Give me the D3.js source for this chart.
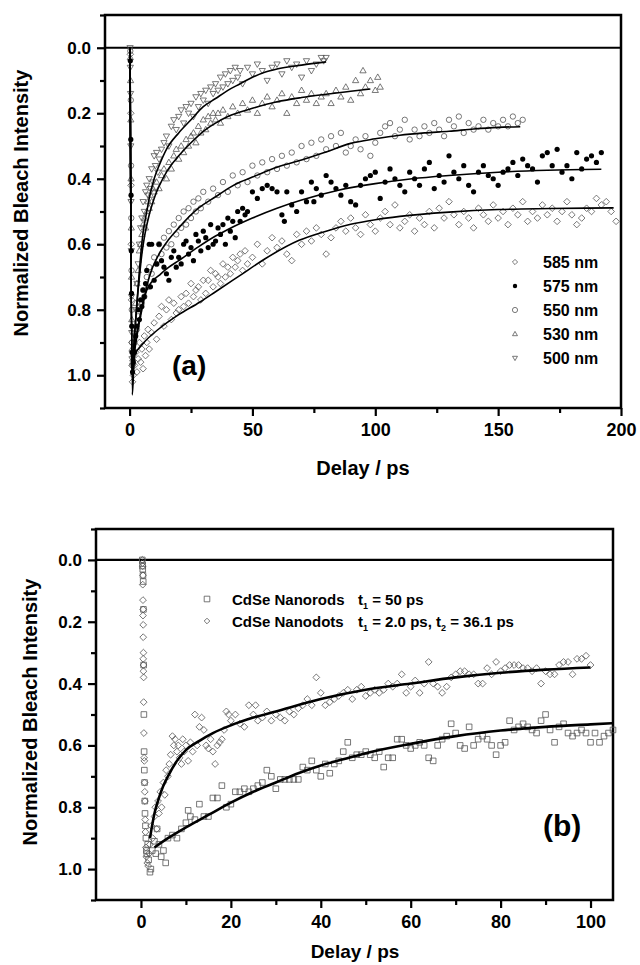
<!DOCTYPE html>
<html>
<head>
<meta charset="utf-8">
<script src="https://cdn.jsdelivr.net/npm/d3@7"></script>
<style>
body { margin: 0; background: #fff; }
text { font-family: "Liberation Sans", Arial, sans-serif; font-weight: bold; fill: #000; }
</style>
</head>
<body>
<svg width="640" height="965"></svg>
<script>

// ---- panel (a) data : [delay ps, normalized bleach] ----
var s585 = [[0.3,0.02],[0.5,0.2],[0.6,0.42],[0.7,0.6],[0.8,0.77],[0.9,0.9],[1,0.97],[1.2,1.02],[1.5,1.0],
  [2,0.97],[2.5,0.93],[3,0.99],[3.5,0.95],[4,0.9],[4.5,0.96],[5,0.92],[5.5,0.98],[6,0.88],[6.5,0.94],[7,0.9],[7.5,0.86],[8,0.92],[9,0.87],[10,0.84],
  [11,0.89],[12,0.82],[13,0.79],[14,0.85],[15,0.8],[16,0.77],[17,0.83],[18,0.78],[19,0.81],[20,0.8],[21,0.76],[22,0.79],[23,0.75],[24,0.78],[25,0.72],
  [26,0.76],[27,0.74],[28,0.73],[29,0.77],[30,0.71],[31,0.75],[32,0.71],[33,0.68],[34,0.73],[35,0.69],[36,0.7],[37,0.72],[38,0.66],[39,0.7],[40,0.67],
  [41,0.69],[42,0.64],[43,0.67],[44,0.65],[45,0.63],[46,0.68],[47,0.62],[48,0.66],[50,0.64],[52,0.6],[54,0.66],[56,0.62],[58,0.58],[60,0.61],[62,0.59],
  [64,0.63],[66,0.65],[68,0.57],[70,0.6],[72,0.56],[74,0.59],[76,0.55],[78,0.57],[80,0.63],[82,0.58],[84,0.55],[86,0.53],[88,0.56],[90,0.52],[92,0.55],
  [94,0.57],[96,0.51],[98,0.54],[100,0.56],[102,0.52],[104,0.5],[106,0.54],[108,0.48],[110,0.55],[112,0.53],[114,0.51],[116,0.56],[118,0.52],[120,0.54],
  [122,0.5],[124,0.55],[126,0.49],[128,0.52],[130,0.47],[132,0.51],[134,0.54],[136,0.5],[138,0.52],[140,0.55],[142,0.49],[144,0.51],[146,0.53],[148,0.48],
  [150,0.52],[152,0.5],[154,0.54],[156,0.49],[158,0.51],[160,0.47],[162,0.53],[164,0.5],[166,0.52],[168,0.48],[170,0.51],[172,0.49],[174,0.53],[176,0.5],
  [178,0.47],[180,0.51],[182,0.54],[184,0.52],[186,0.49],[188,0.5],[190,0.46],[192,0.48],[194,0.47],[196,0.5],[198,0.53]];

var s575 = [[0.3,0.04],[0.5,0.28],[0.6,0.45],[0.7,0.62],[0.8,0.75],[0.9,0.85],[1,0.93],[1.2,0.99],[1.5,0.96],
  [2,0.93],[2.5,0.88],[3,0.85],[3.5,0.8],[4,0.83],[4.5,0.77],[5,0.79],[5.5,0.74],[6,0.76],[6.5,0.72],[7,0.68],[8,0.6],[8.5,0.73],[9,0.6],[10,0.71],
  [11,0.66],[12,0.6],[13,0.65],[14,0.67],[15,0.69],[16,0.71],[17,0.64],[18,0.62],[19,0.67],[20,0.64],[21,0.66],[22,0.6],[23,0.59],[24,0.63],[25,0.61],
  [26,0.65],[27,0.57],[28,0.59],[29,0.62],[30,0.56],[31,0.58],[32,0.61],[33,0.54],[34,0.6],[35,0.59],[36,0.55],[37,0.57],[38,0.54],[39,0.6],[40,0.52],
  [41,0.56],[42,0.53],[43,0.58],[44,0.5],[45,0.53],[46,0.49],[47,0.51],[48,0.5],[50,0.44],[52,0.46],[54,0.43],[56,0.42],[58,0.43],[60,0.44],[62,0.51],
  [63,0.53],[64,0.44],[66,0.48],[68,0.5],[70,0.44],[72,0.47],[74,0.41],[75,0.47],[76,0.43],[78,0.45],[80,0.39],[82,0.41],[84,0.43],[86,0.45],[88,0.42],
  [90,0.47],[92,0.48],[94,0.42],[96,0.4],[98,0.39],[100,0.38],[102,0.46],[104,0.41],[106,0.37],[108,0.4],[110,0.42],[112,0.44],[114,0.38],[116,0.4],
  [118,0.42],[120,0.37],[122,0.35],[124,0.43],[126,0.39],[128,0.41],[130,0.33],[132,0.38],[134,0.4],[136,0.36],[138,0.42],[140,0.44],[142,0.38],[144,0.36],
  [146,0.39],[148,0.4],[150,0.42],[152,0.38],[154,0.37],[156,0.35],[158,0.39],[160,0.34],[162,0.36],[164,0.37],[166,0.41],[168,0.33],[170,0.32],[172,0.36],
  [174,0.31],[176,0.38],[178,0.36],[180,0.4],[182,0.32],[184,0.37],[186,0.34],[188,0.33],[190,0.35],[192,0.32]];

var s550 = [[0.3,0.01],[0.5,0.16],[0.6,0.36],[0.7,0.52],[0.8,0.68],[0.9,0.8],[1,0.9],[1.2,0.97],[1.5,0.94],
  [2,0.9],[3,0.86],[3.5,0.82],[4,0.79],[5,0.78],[5.5,0.74],[6,0.76],[7,0.7],[7.5,0.73],[8,0.67],[9,0.69],[10,0.64],[11,0.66],[12,0.6],[13,0.63],[14,0.58],
  [15,0.61],[16,0.56],[17,0.6],[18,0.54],[19,0.57],[20,0.52],[21,0.55],[22,0.5],[23,0.54],[24,0.49],[25,0.52],[26,0.47],[27,0.5],[28,0.46],[29,0.49],
  [30,0.44],[32,0.47],[34,0.43],[36,0.45],[38,0.41],[40,0.44],[42,0.39],[44,0.42],[46,0.38],[48,0.41],[50,0.36],[52,0.39],[54,0.35],[56,0.38],[58,0.34],
  [60,0.37],[62,0.33],[64,0.36],[66,0.32],[68,0.35],[70,0.3],[72,0.34],[74,0.29],[76,0.33],[78,0.28],[80,0.31],[82,0.27],[84,0.3],[86,0.26],[88,0.32],
  [90,0.3],[92,0.28],[94,0.31],[96,0.27],[98,0.33],[100,0.29],[102,0.26],[104,0.24],[106,0.23],[108,0.27],[110,0.25],[112,0.22],[114,0.28],[116,0.25],
  [118,0.27],[120,0.24],[122,0.26],[124,0.23],[126,0.25],[128,0.27],[130,0.22],[132,0.24],[134,0.21],[136,0.26],[138,0.23],[140,0.25],[142,0.24],[144,0.22],
  [146,0.25],[148,0.23],[150,0.24],[152,0.22],[154,0.24],[156,0.21],[158,0.23],[160,0.22]];

var s530 = [[0.3,0.03],[0.4,0.1],[0.5,0.22],[0.6,0.4],[0.7,0.55],[0.8,0.7],[0.9,0.83],[1,0.92],[1.3,0.95],
  [2,0.86],[2.5,0.78],[3,0.72],[3.5,0.68],[4,0.62],[4.5,0.6],[5,0.57],[5.5,0.54],[6,0.52],[6.5,0.55],[7,0.5],[7.5,0.47],[8,0.49],[8.5,0.45],[9,0.47],
  [9.5,0.43],[10,0.44],[11,0.41],[12,0.43],[13,0.39],[14,0.37],[15,0.4],[16,0.35],[17,0.37],[18,0.33],[19,0.31],[20,0.34],[21,0.3],[22,0.32],[23,0.28],
  [24,0.3],[25,0.27],[26,0.26],[27,0.29],[28,0.24],[29,0.26],[30,0.22],[31,0.25],[32,0.21],[33,0.23],[34,0.2],[35,0.22],[36,0.2],[37,0.23],[38,0.19],
  [40,0.21],[42,0.18],[44,0.2],[46,0.17],[48,0.19],[50,0.16],[52,0.2],[54,0.17],[56,0.15],[58,0.18],[60,0.16],[62,0.14],[64,0.2],[66,0.15],[68,0.17],
  [70,0.13],[72,0.16],[74,0.14],[76,0.17],[78,0.15],[80,0.14],[82,0.17],[84,0.13],[86,0.15],[88,0.12],[90,0.16],[92,0.1],[94,0.14],[95,0.07],[96,0.12],
  [98,0.1],[100,0.13],[101,0.09],[102,0.12]];

var s500 = [[0.2,0.0],[0.3,0.06],[0.4,0.14],[0.5,0.3],[0.6,0.47],[0.7,0.62],[0.8,0.76],[0.9,0.87],[1,0.95],[1.3,0.97],
  [2,0.88],[2.5,0.8],[3,0.72],[3.5,0.66],[4,0.6],[4.5,0.55],[5,0.52],[5.5,0.47],[6,0.5],[6.5,0.44],[7,0.42],[7.5,0.45],[8,0.4],[8.5,0.43],[9,0.37],
  [9.5,0.41],[10,0.33],[10.5,0.36],[11,0.32],[11.5,0.38],[12,0.34],[13,0.31],[14,0.29],[15,0.27],[16,0.3],[17,0.24],[18,0.22],[19,0.25],[20,0.21],
  [21,0.19],[22,0.23],[23,0.18],[24,0.2],[25,0.17],[26,0.21],[27,0.15],[28,0.18],[29,0.14],[30,0.16],[31,0.13],[32,0.17],[33,0.12],[34,0.14],[35,0.11],
  [36,0.13],[37,0.09],[38,0.12],[39,0.08],[40,0.11],[41,0.07],[42,0.1],[43,0.06],[44,0.09],[45,0.07],[46,0.11],[48,0.06],[50,0.08],[52,0.05],[54,0.07],
  [56,0.1],[58,0.06],[60,0.05],[62,0.08],[64,0.04],[66,0.06],[68,0.05],[70,0.09],[72,0.04],[74,0.07],[76,0.05],[78,0.03],[79,0.04],[80,0.03]];

// fitted curves, panel (a)
var fit585 = [[0.2,0],[1.1,1.06],[2,0.94],[5.4,0.904],[12,0.858],[20,0.815],[28.5,0.777],[35,0.745],[45,0.695],[55,0.645],[69,0.588],[80,0.56],
  [90,0.539],[100,0.525],[110,0.515],[130,0.502],[150,0.494],[171,0.491],[197,0.489]];
var fit575 = [[0.2,0],[1,1.0],[2,0.92],[3,0.87],[4,0.83],[5,0.79],[7,0.74],[9,0.715],[12,0.695],[16,0.67],[20,0.65],[28,0.608],[35,0.575],[40,0.555],
  [50,0.52],[60,0.49],[70,0.465],[85,0.435],[100,0.415],[115,0.4],[130,0.39],[150,0.38],[170,0.374],[192,0.371]];
var fit550 = [[0.2,0],[1,1.0],[2,0.93],[3,0.88],[5,0.8],[8,0.7],[12,0.63],[16,0.585],[20,0.55],[28,0.49],[35,0.455],[40,0.43],[45,0.41],[50,0.395],
  [60,0.365],[70,0.343],[80,0.318],[90,0.292],[100,0.278],[110,0.267],[120,0.26],[130,0.255],[140,0.248],[150,0.243],[159,0.241]];
var fit530 = [[0.2,0],[1,1.0],[2,0.88],[3,0.78],[4,0.7],[5,0.63],[6,0.58],[8,0.51],[10,0.46],[15,0.38],[20,0.33],[25,0.29],[30,0.255],[35,0.23],
  [40,0.21],[50,0.185],[60,0.165],[70,0.152],[80,0.142],[90,0.133],[98,0.126]];
var fit500 = [[0.2,0],[1,0.98],[2,0.88],[3,0.78],[4,0.68],[5.4,0.57],[7,0.5],[8,0.46],[10,0.4],[12,0.36],[15,0.31],[20,0.26],[25,0.22],[30,0.18],
  [35,0.155],[40,0.13],[45,0.11],[50,0.09],[55,0.075],[60,0.065],[70,0.053],[80,0.043]];

// ---- panel (b) data ----
var rods = [[0.3,0.0],[0.35,0.02],[0.4,0.03],[0.45,0.05],[0.5,0.07],[0.55,0.16],[0.6,0.34],[0.65,0.5],[0.7,0.62],[0.75,0.68],[0.8,0.72],[0.85,0.78],
  [0.9,0.82],[1,0.86],[1.1,0.9],[1.2,0.94],[1.3,0.95],[1.5,0.92],[1.7,0.97],[2,1.01],[2.2,1.0],[2.5,0.94],[3,0.91],[3.3,0.95],[3.6,0.87],[4,0.92],
  [4.5,0.96],[5,0.94],[5.5,0.98],[6,0.9],[7,0.89],[8,0.9],[9,0.87],[10,0.85],[10.5,0.81],[11,0.83],[12,0.84],[13,0.79],[14,0.83],[15,0.83],[16,0.77],
  [17,0.77],[18,0.73],[19,0.8],[20,0.79],[21,0.75],[22,0.75],[23,0.74],[24,0.75],[25,0.74],[26,0.73],[27,0.72],[28,0.68],[29,0.7],[30,0.74],[31,0.71],
  [32,0.71],[33,0.71],[34,0.71],[35,0.71],[36,0.67],[37,0.68],[38,0.65],[39,0.68],[40,0.7],[41,0.66],[42,0.69],[43,0.66],[44,0.65],[45,0.62],[46,0.59],
  [47,0.64],[48,0.63],[49,0.63],[50,0.62],[51,0.63],[52,0.64],[53,0.62],[54,0.67],[55,0.64],[56,0.64],[57,0.58],[58,0.58],[59,0.6],[60,0.61],[61,0.6],
  [62,0.59],[63,0.6],[64,0.64],[65,0.65],[66,0.6],[67,0.58],[68,0.57],[69,0.53],[70,0.56],[71,0.6],[72,0.61],[73,0.54],[74,0.6],[75,0.58],[76,0.57],
  [77,0.58],[78,0.6],[79,0.63],[80,0.6],[81,0.59],[82,0.52],[83,0.55],[84,0.54],[85,0.53],[86,0.54],[87,0.55],[88,0.56],[89,0.52],[90,0.5],[91,0.55],
  [92,0.59],[93,0.54],[94,0.53],[95,0.56],[96,0.57],[97,0.56],[98,0.55],[99,0.56],[100,0.59],[101,0.56],[102,0.59],[103,0.57],[104,0.56],[105,0.55]];

var dots = [[0.3,0.0],[0.35,0.01],[0.4,0.02],[0.45,0.05],[0.4,0.08],[0.45,0.13],[0.5,0.16],[0.45,0.18],[0.5,0.21],[0.5,0.25],[0.55,0.3],[0.5,0.32],
  [0.55,0.34],[0.55,0.36],[0.6,0.38],[0.6,0.46],[0.65,0.56],[0.7,0.64],[0.75,0.65],[0.8,0.72],[0.85,0.75],[0.9,0.78],[0.95,0.84],[1,0.88],[1.1,0.93],
  [1.2,0.96],[1.4,0.98],[1.6,0.99],[1.8,0.95],[2,0.92],[2.3,0.86],[2.6,0.9],[3,0.83],[3.2,0.8],[3.5,0.87],[3.8,0.78],[4,0.82],[4.3,0.75],[4.6,0.8],
  [5,0.72],[5.3,0.76],[5.6,0.68],[6,0.7],[6.3,0.66],[6.6,0.63],[7,0.57],[7.3,0.6],[7.6,0.58],[8,0.62],[8.3,0.6],[8.6,0.64],[9,0.66],[9.3,0.58],[9.6,0.62],
  [10,0.6],[10.5,0.65],[11,0.59],[11.5,0.62],[12,0.5],[12.5,0.6],[13,0.54],[13.5,0.51],[14,0.55],[14.5,0.6],[15,0.61],[15.5,0.58],[16,0.62],[16.5,0.66],
  [17,0.6],[17.5,0.59],[18,0.58],[18.5,0.55],[19,0.49],[19.5,0.5],[20,0.52],[21,0.5],[22,0.53],[23,0.54],[24,0.47],[25,0.5],[25.5,0.47],[26,0.52],
  [27,0.51],[28,0.49],[29,0.52],[30,0.5],[31,0.51],[32,0.52],[33,0.49],[34,0.5],[35,0.48],[36,0.47],[37,0.45],[38,0.47],[39,0.38],[40,0.43],[41,0.47],
  [42,0.46],[43,0.45],[44,0.44],[45,0.43],[46,0.42],[47,0.45],[48,0.42],[49,0.41],[50,0.44],[51,0.43],[52,0.42],[53,0.43],[54,0.42],[55,0.4],[56,0.41],
  [57,0.4],[58,0.37],[59,0.43],[60,0.41],[61,0.39],[62,0.43],[63,0.4],[64,0.33],[65,0.4],[66,0.41],[67,0.43],[68,0.41],[69,0.38],[70,0.37],[71,0.36],
  [72,0.36],[73,0.37],[74,0.37],[75,0.4],[76,0.4],[77,0.35],[78,0.37],[79,0.33],[80,0.36],[81,0.35],[82,0.34],[83,0.34],[84,0.34],[85,0.35],[86,0.35],
  [87,0.36],[88,0.35],[89,0.4],[90,0.36],[91,0.37],[92,0.37],[93,0.34],[94,0.33],[95,0.33],[96,0.37],[97,0.32],[98,0.32],[99,0.31],[100,0.34]];

var fitRods = [[3,0.93],[6,0.9],[10,0.865],[15,0.825],[20,0.785],[25,0.75],[30,0.72],[35,0.69],[40,0.665],[45,0.645],[50,0.625],[60,0.595],
  [70,0.57],[80,0.552],[90,0.54],[100,0.532],[105,0.528]];
var fitDots = [[2,0.9],[3,0.82],[4,0.77],[5,0.73],[6,0.7],[8,0.65],[10,0.615],[13,0.585],[16,0.56],[20,0.535],[25,0.51],[30,0.49],[40,0.45],
  [50,0.42],[60,0.4],[70,0.38],[80,0.365],[90,0.355],[100,0.348]];

// ticks
var yMajor = [0, 0.2, 0.4, 0.6, 0.8, 1.0];
var yMinor = [-0.1, 0.1, 0.3, 0.5, 0.7, 0.9, 1.1];
var xMajorA = [0, 50, 100, 150, 200], xMinorA = [25, 75, 125, 175];
var xMajorB = [0, 20, 40, 60, 80, 100], xMinorB = [10, 30, 50, 70, 90];

var svg = d3.select("svg");

// marker shapes
function shapePath(kind, r) {
  if (kind == "diamond") return "M0," + (-r) + "L" + r + ",0L0," + r + "L" + (-r) + ",0Z";
  if (kind == "up") return "M0," + (-r) + "L" + (r * 0.95) + "," + (r * 0.65) + "L" + (-r * 0.95) + "," + (r * 0.65) + "Z";
  if (kind == "down") return "M0," + r + "L" + (r * 0.95) + "," + (-r * 0.65) + "L" + (-r * 0.95) + "," + (-r * 0.65) + "Z";
  if (kind == "square") return "M" + (-r) + "," + (-r) + "h" + (2 * r) + "v" + (2 * r) + "h" + (-2 * r) + "Z";
  return d3.symbol().type(d3.symbolCircle).size(Math.PI * r * r)();
}

function drawPanel(o) {
  var x = d3.scaleLinear().domain(o.xDomain).range([o.left, o.right]);
  var y = d3.scaleLinear().domain([-0.1, 1.1]).range([o.top, o.bottom]);
  var g = svg.append("g");

  // minor ticks
  g.append("g").attr("transform", "translate(" + o.left + ",0)")
    .call(d3.axisLeft(y).tickValues(yMinor).tickSize(5).tickFormat(""));
  g.append("g").attr("transform", "translate(0," + o.bottom + ")")
    .call(d3.axisBottom(x).tickValues(o.xMinor).tickSize(5).tickFormat(""));
  // major ticks
  g.append("g").attr("class", "ylab").attr("transform", "translate(" + o.left + ",0)")
    .call(d3.axisLeft(y).tickValues(yMajor).tickSize(8).tickPadding(6).tickFormat(d3.format(".1f")));
  g.append("g").attr("class", "xlab").attr("transform", "translate(0," + o.bottom + ")")
    .call(d3.axisBottom(x).tickValues(o.xMajor).tickSize(8).tickPadding(7).tickFormat(d3.format("d")));
  g.selectAll(".domain").remove();
  g.selectAll(".tick line").attr("stroke", "#000").attr("stroke-width", 2.2);
  g.selectAll(".ylab text").style("font-size", o.yFont + "px");
  g.selectAll(".xlab text").style("font-size", o.xFont + "px");

  // frame and zero line
  g.append("rect").attr("x", o.left).attr("y", o.top)
    .attr("width", o.right - o.left).attr("height", o.bottom - o.top)
    .attr("fill", "none").attr("stroke", "#000").attr("stroke-width", 2.5);
  g.append("line").attr("x1", o.left).attr("x2", o.right).attr("y1", y(0)).attr("y2", y(0))
    .attr("stroke", "#000").attr("stroke-width", 2.2);

  var plot = g.append("g");
  o.series.forEach(function(s) {
    plot.append("g").selectAll("path")
      .data(s.data)
      .enter().append("path")
      .attr("transform", function(d) { return "translate(" + x(d[0]) + "," + y(d[1]) + ")"; })
      .attr("d", shapePath(s.shape, s.r))
      .attr("fill", s.shape == "dot" ? "#000" : "none")
      .attr("stroke", s.shape == "dot" ? "none" : "#555")
      .attr("stroke-width", 0.8);
  });

  var line = d3.line()
    .x(function(d) { return x(d[0]); })
    .y(function(d) { return y(d[1]); })
    .curve(d3.curveMonotoneX);
  o.fits.forEach(function(f) {
    plot.append("path").attr("d", line(f)).attr("fill", "none")
      .attr("stroke", "#000").attr("stroke-width", o.fitWidth);
  });

  // axis titles
  g.append("text").attr("transform", "translate(" + o.yTitleX + "," + o.yTitleY + ") rotate(-90)")
    .attr("text-anchor", "middle").style("font-size", "20px").text("Normalized Bleach Intensity");
  g.append("text").attr("x", o.xTitleX).attr("y", o.xTitleY)
    .attr("text-anchor", "middle").style("font-size", o.xTitleFont + "px").text("Delay / ps");
  g.append("text").attr("x", o.tagX).attr("y", o.tagY).style("font-size", o.tagFont + "px").text(o.tag);
  return g;
}

// panel (a)
var ga = drawPanel({
  xDomain: [-10, 200], left: 105, right: 621, top: 15, bottom: 408,
  xMajor: xMajorA, xMinor: xMinorA, yFont: 17, xFont: 18,
  series: [
    {data: s585, shape: "diamond", r: 3.3},
    {data: s550, shape: "circle", r: 2.7},
    {data: s530, shape: "up", r: 3.3},
    {data: s500, shape: "down", r: 3.3},
    {data: s575, shape: "dot", r: 2.6}
  ],
  fits: [fit585, fit575, fit550, fit530, fit500], fitWidth: 1.6,
  yTitleX: 28, yTitleY: 203, xTitleX: 363, xTitleY: 475, xTitleFont: 20,
  tag: "(a)", tagX: 172, tagY: 375, tagFont: 28
});

var legA = [["585 nm", "diamond"], ["575 nm", "dot"], ["550 nm", "circle"], ["530 nm", "up"], ["500 nm", "down"]];
legA.forEach(function(l, i) {
  var cy = 262 + i * 24;
  ga.append("path").attr("transform", "translate(515," + cy + ")")
    .attr("d", shapePath(l[1], l[1] == "dot" ? 2.2 : 2.6))
    .attr("fill", l[1] == "dot" ? "#000" : "none")
    .attr("stroke", l[1] == "dot" ? "none" : "#555").attr("stroke-width", 0.8);
  ga.append("text").attr("x", 543).attr("y", cy + 6).style("font-size", "16px").text(l[0]);
});

// panel (b)
var gb = drawPanel({
  xDomain: [-10, 105], left: 96, right: 613, top: 529, bottom: 900,
  xMajor: xMajorB, xMinor: xMinorB, yFont: 17, xFont: 18,
  series: [
    {data: rods, shape: "square", r: 2.8},
    {data: dots, shape: "diamond", r: 3.4}
  ],
  fits: [fitRods, fitDots], fitWidth: 2.6,
  yTitleX: 37, yTitleY: 712, xTitleX: 355, xTitleY: 958, xTitleFont: 19,
  tag: "(b)", tagX: 543, tagY: 836, tagFont: 30
});

var legB = [["CdSe Nanorods", "square", ["50 ps"]], ["CdSe Nanodots", "diamond", ["2.0 ps, ", "36.1 ps"]]];
legB.forEach(function(l, i) {
  var cy = 599 + i * 22;
  gb.append("path").attr("transform", "translate(207," + cy + ")")
    .attr("d", shapePath(l[1], 2.8)).attr("fill", "none").attr("stroke", "#555").attr("stroke-width", 0.8);
  gb.append("text").attr("x", 232).attr("y", cy + 5.5).style("font-size", "15px").text(l[0]);
  var t = gb.append("text").attr("x", 358).attr("y", cy + 5.5).style("font-size", "15px");
  l[2].forEach(function(v, k) {
    t.append("tspan").text("t");
    t.append("tspan").attr("dy", 4).style("font-size", "9px").text(k + 1);
    t.append("tspan").attr("dy", -4).text(" = " + v);
  });
});

</script>
</body>
</html>
